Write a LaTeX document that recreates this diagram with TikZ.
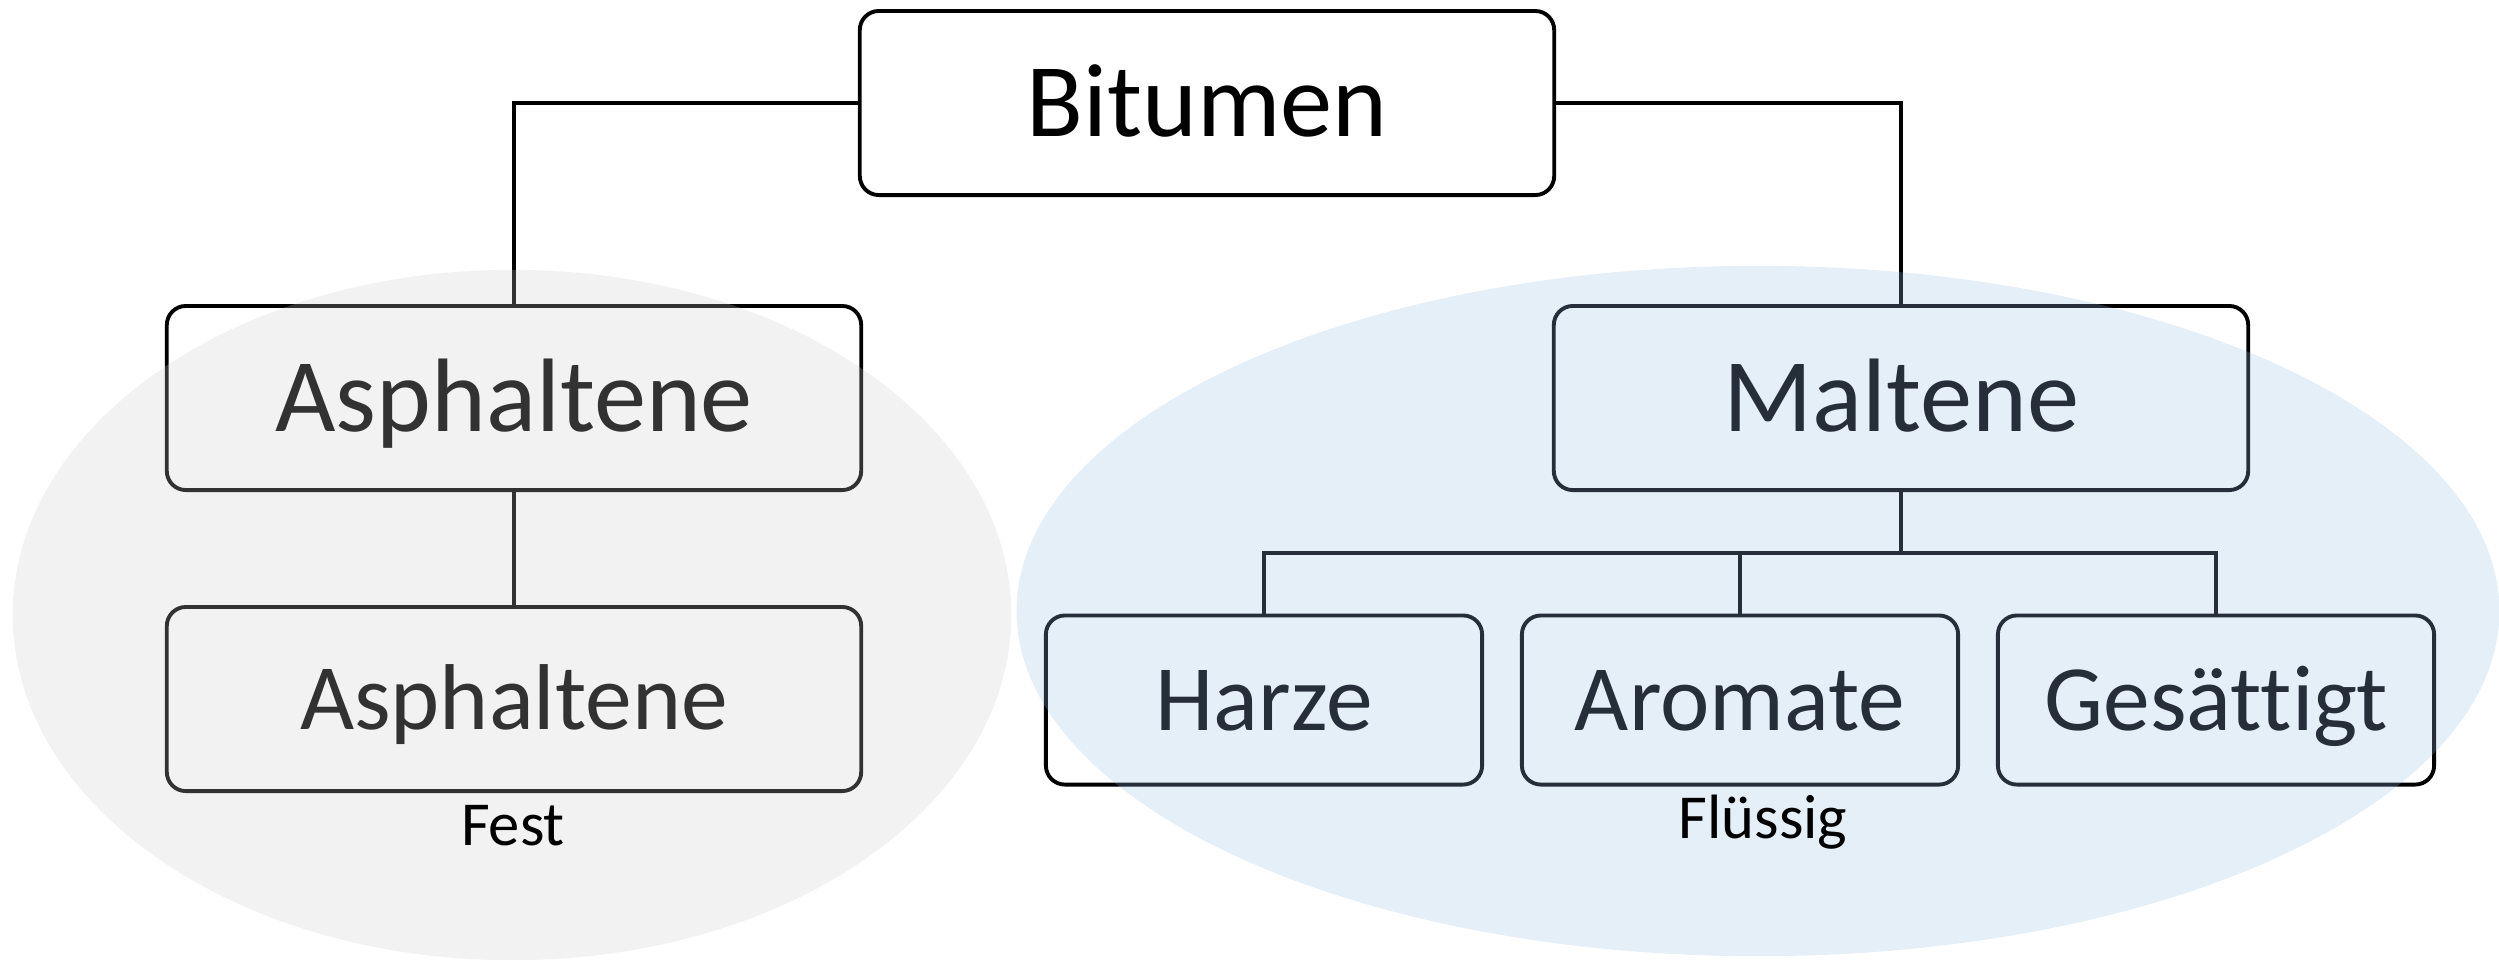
\documentclass[tikz,border=0pt]{standalone}
\usepackage{fontspec}
\setmainfont{Carlito}[Ligatures={NoCommon}]
\definecolor{greyfill}{RGB}{203,203,203}
\definecolor{bluefill}{RGB}{152,190,228}
\begin{document}
\begin{tikzpicture}[x=0.01cm,y=-0.01cm,
  box/.style={draw=black, line width=1.1pt, rounded corners=0.19cm, inner sep=0pt,
    text depth=0pt, align=center},
  topbox/.style={box, minimum width=6.94cm, minimum height=1.84cm, text height=19.1pt,
    font=\fontsize{29.7}{32}\selectfont},
  midbox/.style={box, minimum width=6.94cm, minimum height=1.84cm, text height=17.1pt,
    font=\fontsize{26.6}{30}\selectfont},
  smallbox/.style={box, minimum width=4.36cm, minimum height=1.69cm, text height=17.1pt,
    font=\fontsize{26.6}{30}\selectfont},
  conn/.style={draw=black, line width=1pt},
  lbl/.style={anchor=base, inner sep=0pt, font=\fontsize{17.8}{20}\selectfont},
  blob/.style={fill opacity=0.25}]
\useasboundingbox (0,0) rectangle (2499,959);
% nodes
\node[topbox] (bit) at (1207,103) {Bitumen};
\node[topbox] (asph) at (514,398) {Asphaltene};
\node[midbox] (asph2) at (514,699) {Asphaltene};
\node[topbox] (malt) at (1901,398) {Maltene};
\node[smallbox] (harz) at (1264,700) {Harze};
\node[smallbox] (arom) at (1740,700) {Aromate};
\node[smallbox] (gesa) at (2216,700) {Gesättigt};
\coordinate (mj) at (1901,553);
% connectors
\draw[conn] (bit.west) -| (asph.north);
\draw[conn] (bit.east) -| (malt.north);
\draw[conn] (asph.south) -- (asph2.north);
\draw[conn] (malt.south) -- (mj);
\draw[conn] (harz.north) -- (harz.north |- mj) -- (gesa.north |- mj) -- (gesa.north);
\draw[conn] (arom.north) -- (arom.north |- mj);
% translucent groups
\fill[greyfill, blob] (512,615) ellipse [x radius=4.99cm, y radius=3.45cm];
\fill[bluefill, blob] (1758,611) ellipse [x radius=7.41cm, y radius=3.45cm];
% labels
\node[lbl] (fest) at (513,845) {Fest};
\node[lbl] (fluessig) at (1763,838) {Flüssig};
\end{tikzpicture}
\end{document}
